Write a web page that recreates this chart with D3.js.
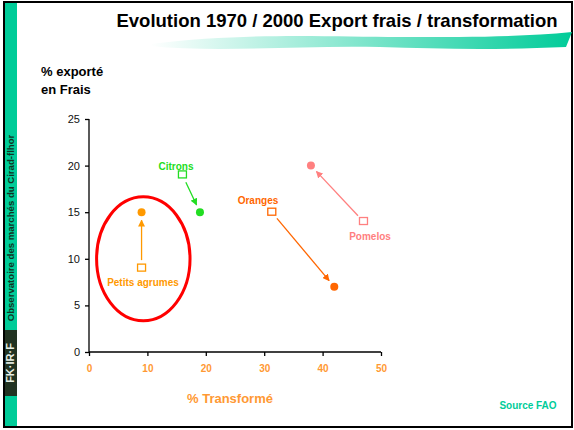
<!DOCTYPE html>
<html>
<head>
<meta charset="utf-8">
<script src="https://cdn.jsdelivr.net/npm/d3@7"></script>
<style>
  body { margin: 0; background: #fff; }
  svg { font-family: Arial, "Liberation Sans", sans-serif; }
</style>
</head>
<body>
<div id="chart"></div>
<script>
// products, 1970 and 2000 positions (x = % transformé, y = % exporté en frais)
const products = ["Citrons", "Petits agrumes", "Oranges", "Pomelos"];
const colors = ["#22dd22", "#ff9900", "#ff6600", "#ff8080"];
const x1970 = [16, 9, 31.3, 47];
const y1970 = [19, 9, 15, 14];
const x2000 = [19, 9, 42, 38];
const y2000 = [15, 15, 7, 20];
const xTicks = [0, 10, 20, 30, 40, 50];
const yTicks = [0, 5, 10, 15, 20, 25];
// highlighted group (ellipse) around petits agrumes
const ellipseCenter = [9.3, 10];
const ellipseRadius = [8, 6.65];

const W = 574, H = 430;
const margin = {top: 119, left: 89, right: 193, bottom: 78};
const width = W - margin.left - margin.right;
const height = H - margin.top - margin.bottom;

const svg = d3.select("#chart").append("svg")
    .attr("width", W)
    .attr("height", H);

const defs = svg.append("defs");
const grad = defs.append("linearGradient").attr("id", "swoosh");
grad.append("stop").attr("offset", "0%").attr("stop-color", "#00cc99").attr("stop-opacity", 0);
grad.append("stop").attr("offset", "100%").attr("stop-color", "#00cc99").attr("stop-opacity", 1);

colors.forEach((c, i) => {
  defs.append("marker")
      .attr("id", "arrow" + i)
      .attr("viewBox", "0 0 10 10")
      .attr("refX", 9).attr("refY", 5)
      .attr("markerWidth", 7).attr("markerHeight", 7)
      .attr("markerUnits", "userSpaceOnUse")
      .attr("orient", "auto")
    .append("path")
      .attr("d", "M0,0L10,5L0,10z")
      .attr("fill", c);
});

// frame, side band
svg.append("rect").attr("x", 4).attr("y", 2).attr("width", 568).attr("height", 425)
    .attr("fill", "none").attr("stroke", "#000").attr("stroke-width", 2);
svg.append("rect").attr("x", 5).attr("y", 3).attr("width", 12).attr("height", 423)
    .attr("fill", "#00cc99");
svg.append("text")
    .attr("transform", "translate(14,228) rotate(-90)")
    .attr("text-anchor", "middle")
    .style("font-size", "9.6px").style("font-weight", "bold").attr("fill", "#113322")
    .text("Observatoire des marchés du Cirad-flhor");
svg.append("rect").attr("x", 5).attr("y", 330).attr("width", 12).attr("height", 66).attr("fill", "#223322");
svg.append("text")
    .attr("transform", "translate(14,363) rotate(-90)")
    .attr("text-anchor", "middle")
    .style("font-size", "11px").style("font-weight", "bold").attr("fill", "#e8f0e8")
    .text("FK·IR·F");

// title and swoosh
svg.append("path")
    .attr("d", "M150,44 C250,32 330,37 400,37 C470,37 520,37 572,32 L566,47 C500,50 440,49 380,47 C300,45 220,53 150,46 Z")
    .attr("fill", "url(#swoosh)");
svg.append("text")
    .attr("x", 337).attr("y", 27)
    .attr("text-anchor", "middle")
    .style("font-size", "18.5px").style("font-weight", "bold").attr("fill", "#000")
    .text("Evolution 1970 / 2000 Export frais / transformation");

const g = svg.append("g").attr("transform", `translate(${margin.left},${margin.top})`);

const x = d3.scaleLinear().domain([0, 50]).range([0, width]);
const y = d3.scaleLinear().domain([0, 25]).range([height, 0]);

const xAxis = g.append("g")
    .attr("transform", `translate(0,${height})`)
    .call(d3.axisBottom(x).tickValues(xTicks).tickSize(4).tickPadding(9));
xAxis.selectAll("text").style("font-size", "10px").style("font-weight", "bold").attr("fill", "#ff9933");

const yAxis = g.append("g")
    .call(d3.axisLeft(y).tickValues(yTicks).tickSize(4).tickPadding(5));
yAxis.selectAll("text").style("font-size", "11px").attr("fill", "#111");
g.selectAll(".domain, .tick line").attr("stroke", "#000").attr("stroke-width", 1.3);
xAxis.select(".domain").attr("d", `M0,0H${width}`);
yAxis.select(".domain").attr("d", `M0,${height}V0`);

// axis titles
svg.append("text").attr("x", 41).attr("y", 76)
    .style("font-size", "13px").style("font-weight", "bold").text("% exporté");
svg.append("text").attr("x", 41).attr("y", 94)
    .style("font-size", "13px").style("font-weight", "bold").text("en Frais");
svg.append("text").attr("x", 230).attr("y", 403).attr("text-anchor", "middle")
    .style("font-size", "13px").style("font-weight", "bold").attr("fill", "#ff9933")
    .text("% Transformé");
svg.append("text").attr("x", 528).attr("y", 409).attr("text-anchor", "middle")
    .style("font-size", "10px").style("font-weight", "bold").attr("fill", "#00cc99")
    .text("Source FAO");

// ellipse
g.append("ellipse")
    .attr("cx", x(ellipseCenter[0])).attr("cy", y(ellipseCenter[1]))
    .attr("rx", x(ellipseRadius[0]) - x(0)).attr("ry", y(0) - y(ellipseRadius[1]))
    .attr("fill", "none").attr("stroke", "#ff0000").attr("stroke-width", 3);

const data = products.map((p, i) => ({
  name: p, color: colors[i], i: i,
  x0: x1970[i], y0: y1970[i], x1: x2000[i], y1: y2000[i]
}));

// arrows from 1970 to 2000
g.selectAll(".arrow")
    .data(data)
  .enter().append("line")
    .attr("class", "arrow")
    .each(function(d) {
      const ax = x(d.x0), ay = y(d.y0), bx = x(d.x1), by = y(d.y1);
      const len = Math.hypot(bx - ax, by - ay);
      const ux = (bx - ax) / len, uy = (by - ay) / len;
      d3.select(this)
        .attr("x1", ax + ux * 8).attr("y1", ay + uy * 8)
        .attr("x2", bx - ux * 8).attr("y2", by - uy * 8);
    })
    .attr("stroke", d => d.color)
    .attr("stroke-width", 1.3)
    .attr("marker-end", d => `url(#arrow${d.i})`);

// 1970 squares
g.selectAll(".sq")
    .data(data)
  .enter().append("rect")
    .attr("class", "sq")
    .attr("x", d => x(d.x0) - 4).attr("y", d => y(d.y0) - 4)
    .attr("width", 8).attr("height", 7)
    .attr("fill", "#fff").attr("stroke", d => d.color).attr("stroke-width", 1.3);

// 2000 dots
g.selectAll(".dot")
    .data(data)
  .enter().append("circle")
    .attr("class", "dot")
    .attr("cx", d => x(d.x1)).attr("cy", d => y(d.y1))
    .attr("r", 4)
    .attr("fill", d => d.color);

// labels
const labelPos = [[176, 170], [143, 286], [258, 204], [370, 240]];
svg.selectAll(".lbl")
    .data(data)
  .enter().append("text")
    .attr("class", "lbl")
    .attr("x", d => labelPos[d.i][0]).attr("y", d => labelPos[d.i][1])
    .attr("text-anchor", "middle")
    .style("font-size", "10px").style("font-weight", "bold")
    .attr("fill", d => d.color)
    .text(d => d.name);
</script>
</body>
</html>
